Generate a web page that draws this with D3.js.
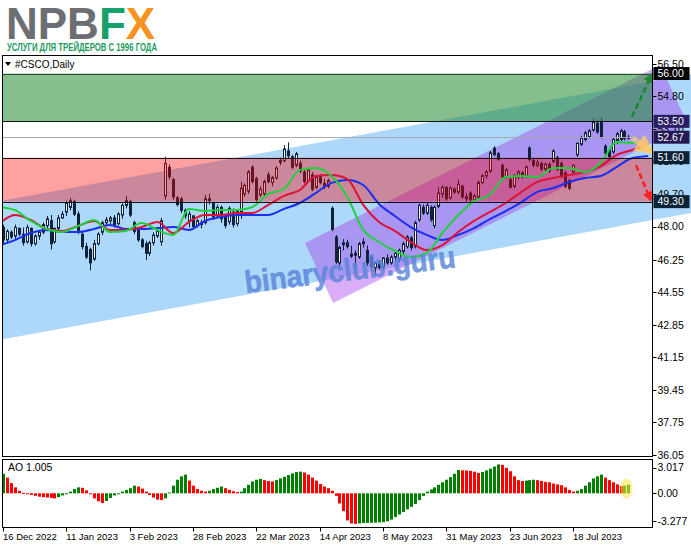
<!DOCTYPE html>
<html><head><meta charset="utf-8">
<script src="https://cdn.jsdelivr.net/npm/d3@7/dist/d3.min.js"></script>
<style>body{margin:0;background:#fff}svg{display:block}</style>
</head><body>
<svg id="c" width="691" height="549"></svg>
<script>
// ---------------- DATA ----------------
const openP=[47.95,47.30,47.70,47.50,47.90,47.60,47.20,47.90,47.10,47.50,
47.70,48.05,48.30,47.20,47.90,48.45,48.75,49.00,49.30,48.65,
47.60,46.95,46.80,46.30,47.10,47.70,48.20,48.30,48.45,48.15,
48.60,49.10,49.30,48.20,47.80,47.30,47.10,46.60,47.15,47.50,
47.20,49.60,51.10,50.45,49.50,49.45,48.85,48.30,48.55,48.05,
48.20,48.20,49.45,49.20,48.55,49.00,48.50,48.25,48.75,48.15,
48.75,49.70,49.85,51.10,50.50,49.65,49.70,50.70,50.30,50.55,
51.35,51.45,51.95,51.65,51.20,51.30,50.85,50.40,50.70,50.05,
50.65,50.25,50.10,48.95,47.45,46.10,47.05,47.15,46.55,46.60,
46.40,47.10,46.75,46.40,45.85,46.05,45.90,46.35,46.10,46.40,
46.30,46.70,46.95,47.40,46.95,48.35,49.00,48.70,49.00,48.05,
49.05,49.70,50.05,49.50,49.95,49.80,50.10,49.55,49.75,49.40,
49.55,50.30,50.65,50.90,52.10,51.80,51.20,50.60,50.45,50.10,
50.60,50.80,50.65,52.10,51.45,51.20,51.30,51.00,51.25,51.40,
51.60,51.30,50.80,50.40,50.85,51.75,52.30,52.55,52.70,53.05,
53.40,53.45,52.20,52.00,51.90,52.50,52.55,52.95,52.60];
const highP=[48.10,47.85,47.80,48.10,47.95,47.95,48.10,47.95,47.60,47.80,
48.20,48.55,48.60,47.95,48.60,48.80,49.35,49.50,49.40,48.80,
47.70,47.15,46.90,47.30,47.70,48.30,48.50,48.55,48.60,48.75,
49.20,49.60,49.40,48.30,47.95,47.40,47.25,47.25,47.70,47.90,
48.45,51.65,51.25,50.55,49.60,49.55,48.95,48.80,48.60,48.40,
48.35,49.65,49.70,49.30,49.15,49.10,48.55,49.05,48.95,48.90,
50.35,50.25,50.95,51.20,50.60,50.10,50.45,50.85,50.65,51.15,
51.60,52.25,52.40,51.75,51.90,51.45,50.95,51.05,50.85,50.70,
50.75,50.50,50.50,49.05,47.55,47.00,47.35,47.30,47.00,46.75,
47.20,47.40,47.00,46.50,46.15,46.20,46.40,46.55,46.50,46.70,
46.85,47.20,47.55,47.50,48.30,49.20,49.15,49.25,49.10,49.10,
50.05,50.15,50.10,50.10,50.05,50.45,50.20,49.75,49.85,49.70,
50.40,50.75,50.95,51.95,52.20,51.90,51.30,51.05,50.55,50.75,
50.95,50.90,51.20,52.20,51.60,51.50,51.40,51.35,51.35,52.05,
51.70,51.40,50.90,50.50,51.25,52.40,52.75,53.00,53.10,53.65,
53.55,53.70,52.30,52.10,52.65,52.95,53.10,53.05,52.80];
const lowP=[47.05,47.20,47.35,47.30,47.50,47.00,47.10,46.95,47.00,47.30,
47.60,47.75,46.80,47.10,47.70,48.40,48.55,48.85,48.55,47.60,
46.80,46.30,45.70,46.20,47.00,47.55,48.05,48.10,47.95,48.05,
48.40,48.95,48.50,47.60,47.20,46.85,46.25,46.45,47.00,47.40,
47.00,49.40,50.45,49.40,49.05,48.70,48.40,47.95,47.85,47.95,
47.90,48.10,49.15,48.35,48.45,48.20,47.90,48.10,47.95,48.00,
48.40,49.55,49.70,50.25,49.30,49.55,49.60,50.25,50.10,50.45,
51.20,51.35,51.55,51.00,51.10,50.80,50.25,50.30,49.85,49.95,
50.20,49.95,50.00,47.75,46.05,45.95,46.75,46.85,46.35,45.75,
46.30,46.90,45.95,45.80,45.45,45.75,45.80,46.00,46.00,46.20,
46.15,46.55,46.85,46.75,46.85,48.25,48.60,48.60,48.25,47.90,
48.95,49.50,49.35,49.40,49.70,49.70,49.45,49.30,49.30,49.30,
49.45,50.20,50.50,50.80,51.70,51.45,50.55,50.50,50.00,50.00,
50.45,50.50,50.55,51.40,51.10,51.10,50.90,50.90,50.80,51.30,
50.90,50.55,50.00,49.90,50.75,51.65,52.20,52.45,52.60,52.95,
52.85,52.60,51.75,51.55,51.80,52.30,52.45,52.50,52.55];
const closeP=[47.30,47.75,47.45,47.95,47.60,47.15,47.95,47.10,47.50,47.70,
48.10,48.40,47.10,47.90,48.45,48.65,49.25,49.35,48.65,47.80,
46.95,46.40,46.10,47.10,47.60,48.20,48.35,48.45,48.10,48.65,
49.10,49.35,48.60,47.75,47.30,46.95,46.60,47.15,47.55,47.75,
48.30,51.30,50.60,49.55,49.15,48.85,48.55,48.65,48.00,48.30,
48.10,49.45,49.35,48.50,49.00,48.40,48.05,48.95,48.10,48.80,
50.00,50.15,50.85,50.35,49.40,49.95,50.35,50.35,50.55,51.05,
51.45,52.05,51.70,51.10,51.80,50.90,50.35,50.95,49.95,50.60,
50.30,50.10,50.40,47.85,46.15,46.90,47.15,46.95,46.45,46.50,
47.10,47.20,46.10,45.90,46.10,45.85,46.35,46.10,46.40,46.60,
46.75,47.10,47.45,46.90,48.20,49.10,48.70,49.10,48.35,49.00,
49.75,50.05,49.45,50.00,49.80,50.20,49.55,49.45,49.40,49.60,
50.30,50.65,50.85,51.85,51.75,51.50,50.60,50.95,50.05,50.65,
50.85,50.60,51.10,51.50,51.20,51.35,51.00,51.25,50.90,51.95,
51.00,50.60,50.10,50.00,51.20,52.35,52.65,52.90,53.00,53.45,
52.95,52.70,51.85,51.65,52.55,52.85,53.00,52.60,52.67];

const aoValues=[2.3,1.85,1.2,0.7,0.3,0.05,-0.1,-0.2,-0.3,-0.4,
-0.45,-0.5,-0.55,-0.6,-0.45,-0.25,-0.05,0.2,0.5,0.7,
0.65,0.35,-0.1,-0.6,-0.95,-1.15,-0.9,-0.55,-0.25,0.0,
0.2,0.4,0.6,0.9,0.8,0.55,0.2,-0.2,-0.5,-0.75,
-0.8,-0.6,0.1,0.9,1.6,2.0,2.2,1.5,0.9,0.5,
0.3,0.2,0.3,0.5,0.65,0.8,0.6,0.4,0.25,0.15,
0.2,0.6,1.0,1.4,1.6,1.7,1.55,1.45,1.4,1.55,
1.75,1.95,2.15,2.35,2.5,2.55,2.45,2.2,1.85,1.5,
1.1,0.8,0.6,0.3,-0.3,-1.2,-2.1,-3.2,-3.55,-3.6,
-3.55,-3.5,-3.49,-3.48,-3.45,-3.43,-3.4,-3.3,-3.1,-2.8,
-2.5,-2.2,-1.9,-1.6,-1.25,-0.8,-0.3,0.2,0.45,0.7,
1.0,1.3,1.6,1.9,2.3,2.75,2.7,2.69,2.65,2.55,
2.4,2.5,2.7,2.9,3.15,3.4,3.35,3.0,2.6,2.0,
1.55,1.45,1.5,1.55,1.6,1.55,1.45,1.35,1.3,1.15,
1.05,0.95,0.7,0.4,0.2,0.3,0.5,0.9,1.3,1.75,
2.0,2.2,1.85,1.55,1.3,1.05,0.85,0.9,1.005];

// Alligator lines (shifted forward)
const jawIdx=[-1,3,7,11,15,19,23,27,31,35,39,43,47,51,55,59,63,67,71,75,79,83,87,91,95,99,103,107,111,115,119,123,127,131,135,139,143,147,151,155,159,163];
const jawVal=[47.0,47.29,47.66,47.82,47.71,47.71,47.87,48.08,47.87,47.87,
47.92,47.97,47.82,48.29,48.50,48.60,48.60,48.60,48.92,49.23,
49.75,50.28,50.43,50.17,49.18,48.55,47.97,47.56,47.29,47.56,
47.92,48.39,48.81,49.28,49.81,50.01,50.33,50.54,50.64,51.11,
51.58,51.69];
const teethIdx=[-1,3,7,11,15,19,23,27,31,35,39,43,47,51,55,59,63,67,71,75,79,83,87,91,95,99,103,107,111,115,119,123,127,131,135,139,143,147,151,155,159,162];
const teethVal=[48.13,48.60,48.34,47.87,47.77,48.03,48.29,47.82,47.82,47.97,
48.24,47.66,48.24,48.60,48.60,48.71,48.71,49.13,49.60,49.91,
50.64,50.69,50.48,49.13,48.24,47.77,47.19,46.77,47.03,47.71,
48.29,48.76,49.23,49.81,50.33,50.54,50.69,50.85,51.16,51.74,
52.00,52.21];
const lipsIdx=[-1,3,7,11,15,19,23,27,31,35,39,43,47,51,55,59,63,67,71,75,79,83,87,91,95,99,103,107,111,115,119,123,127,131,135,139,143,147,151,155,159,160.5];
const lipsVal=[49.02,48.86,48.29,47.87,47.71,48.03,48.34,47.71,47.77,48.18,
47.82,47.56,48.92,48.81,48.86,48.86,49.02,49.70,49.96,50.96,
51.06,50.64,49.54,47.82,47.19,46.72,46.41,46.61,47.66,48.60,
49.33,49.65,50.59,50.64,50.59,51.06,51.06,50.85,51.32,52.42,
52.37,52.47];

const dateLabels=["16 Dec 2022","11 Jan 2023","3 Feb 2023","28 Feb 2023","22 Mar 2023","14 Apr 2023","8 May 2023","31 May 2023","23 Jun 2023","18 Jul 2023"];
const dateIdx=[0,16,32,48,64,80,96,112,128,144];
const priceTicks=[56.50,54.80,53.10,51.40,49.70,48.00,46.25,44.55,42.85,41.15,39.45,37.75,36.05];
const aoTicks=[3.017,0.00,-3.277];
const aoTickText=["3.017","0.00","-3.277"];

// drawn objects, in (bar index, price)
const levelValues=[56.00,53.50,51.60,49.30];
const bidPrice=52.67;
const markedLabels=[56.00,53.50,52.67,51.60,49.30];
const greenZone=[56.00,53.50];
const redZone=[51.60,49.30];
const blueChannel=[[-1,49.32],[176,56.05],[176,48.79],[-1,42.06]];
const purpleChannel=[[76.3,47.14],[166.0,56.45],[173.1,53.31],[83.4,44.00]];
const upArrow=[[158.9,53.73],[163.9,55.96]];
const downArrow=[[159.9,51.22],[163.6,49.39]];
const sideArrow=[[159.0,52.62],[163.9,51.90]];

// ---------------- LAYOUT ----------------
const svg=d3.select('#c');
const FONT='"Liberation Sans", Arial, sans-serif';
const L=2.5, R=652.5, mT=55.5, mB=456.5, aT=459.5, aB=527.5;
const x=d3.scaleLinear().domain([0,144]).range([3,573]);
const y=d3.scaleLinear().domain([36.05,48.00]).range([455,226.5]);
const ya=d3.scaleLinear().domain([0,3.017]).range([493.3,467.7]);
const pt=d=>[x(d[0]),y(d[1])];

const defs=svg.append('defs');
defs.append('clipPath').attr('id','clipAll').append('rect').attr('x',L+0.5).attr('y',mT+0.5).attr('width',691-L).attr('height',mB-mT-1);
defs.append('clipPath').attr('id','clipPlot').append('rect').attr('x',L+0.5).attr('y',mT+0.5).attr('width',R-L-1).attr('height',mB-mT-1);
defs.append('clipPath').attr('id','clipAO').append('rect').attr('x',L+0.5).attr('y',aT+0.5).attr('width',R-L-1).attr('height',aB-aT-1);

// ---------------- LOGO ----------------
const logo=svg.append('text').attr('x',6).attr('y',39).attr('font-family',FONT).attr('font-weight','bold').attr('font-size',44).attr('letter-spacing',0);
logo.append('tspan').attr('fill','#6d6e71').text('NPB');
logo.append('tspan').attr('fill','#17a06c').text('F');
logo.append('tspan').attr('fill','#f7931e').text('X');
svg.append('text').attr('x',7).attr('y',50.5).attr('font-family',FONT).attr('font-weight','bold').attr('font-size',10)
  .attr('fill','#1b9a5e').attr('textLength',150).attr('lengthAdjust','spacingAndGlyphs').text('УСЛУГИ ДЛЯ ТРЕЙДЕРОВ С 1996 ГОДА');

// ---------------- MAIN PANEL ----------------
const back=svg.append('g').attr('clip-path','url(#clipAll)');
back.append('path').attr('d',d3.line()(blueChannel.map(pt))+'Z').attr('fill','#add8f9');

const plot=svg.append('g').attr('clip-path','url(#clipPlot)');
// candles
const bars=d3.range(openP.length);
const cg=plot.append('g');
cg.selectAll('line.w').data(bars).join('line')
  .attr('x1',i=>Math.round(x(i))+0.5).attr('x2',i=>Math.round(x(i))+0.5)
  .attr('y1',i=>y(highP[i])).attr('y2',i=>y(lowP[i]))
  .attr('stroke','#10213a').attr('stroke-width',1);
cg.selectAll('rect.b').data(bars).join('rect')
  .attr('x',i=>Math.round(x(i))-0.5).attr('width',2)
  .attr('y',i=>y(Math.max(openP[i],closeP[i])))
  .attr('height',i=>Math.max(1,Math.abs(y(openP[i])-y(closeP[i]))))
  .attr('fill',i=>closeP[i]>=openP[i]?'#ffffff':'#10213a')
  .attr('stroke','#10213a').attr('stroke-width',1);

// red zone
plot.append('rect').attr('x',L).attr('width',R-L).attr('y',y(redZone[0])).attr('height',y(redZone[1])-y(redZone[0]))
  .attr('fill','rgba(255,0,0,0.37)');

// alligator
const mline=d3.line().curve(d3.curveMonotoneX);
const ma=(idx,val,col)=>plot.append('path').attr('d',mline(idx.map((k,j)=>[x(k),y(val[j])])))
  .attr('fill','none').attr('stroke',col).attr('stroke-width',2);
ma(jawIdx,jawVal,'#1a2ff0');
ma(teethIdx,teethVal,'#dc1437');
ma(lipsIdx,lipsVal,'#1ed23c');

// purple channel
back.append('path').attr('d',d3.line()(purpleChannel.map(pt))+'Z').attr('fill','rgba(165,60,235,0.42)');
// green zone
plot.append('rect').attr('x',L).attr('width',R-L).attr('y',y(greenZone[0])).attr('height',y(greenZone[1])-y(greenZone[0]))
  .attr('fill','rgba(34,139,50,0.55)');

// level lines
plot.selectAll('line.lv').data(levelValues).join('line')
  .attr('x1',L).attr('x2',R).attr('y1',d=>Math.round(y(d))+0.5).attr('y2',d=>Math.round(y(d))+0.5)
  .attr('stroke',(d,i)=>i===0?'#2c4a34':'#111').attr('stroke-width',1);
plot.append('line').attr('x1',L).attr('x2',R).attr('y1',Math.round(y(bidPrice))+0.5).attr('y2',Math.round(y(bidPrice))+0.5)
  .attr('stroke','#a9a9b4').attr('stroke-width',1);

// arrows
const mk=(id,col)=>defs.append('marker').attr('id',id).attr('viewBox','0 0 10 10').attr('refX',8).attr('refY',5)
  .attr('markerWidth',4).attr('markerHeight',4).attr('orient','auto')
  .append('path').attr('d','M0,0L10,5L0,10Z').attr('fill',col);
mk('mg','#1c8a2c'); mk('mr','#ff2020'); mk('my','rgba(255,200,100,0.8)');
const arrows=svg.append('g').attr('clip-path','url(#clipAll)');
arrows.append('path').attr('d',d3.line()(sideArrow.map(pt))).attr('stroke','rgba(255,205,110,0.7)').attr('stroke-width',5).attr('fill','none').attr('marker-end','url(#my)');
arrows.append('path').attr('d',d3.line()(upArrow.map(pt))).attr('stroke','#1c8a2c').attr('stroke-width',2.5).attr('stroke-dasharray','6,3').attr('fill','none').attr('marker-end','url(#mg)');
arrows.append('path').attr('d',d3.line()(downArrow.map(pt))).attr('stroke','#ff2020').attr('stroke-width',2.5).attr('stroke-dasharray','6,3').attr('fill','none').attr('marker-end','url(#mr)');

// watermark
svg.append('text').attr('transform','translate(246,293) rotate(-7)').attr('font-family',FONT).attr('font-weight','bold')
  .attr('font-size',31).attr('fill','rgba(92,132,218,0.82)').attr('stroke','rgba(92,132,218,0.6)').attr('stroke-width',0.8)
  .attr('textLength',212).attr('lengthAdjust','spacingAndGlyphs').text('binaryclub.guru');

// frames
svg.append('rect').attr('x',L).attr('y',mT).attr('width',R-L).attr('height',mB-mT).attr('fill','none').attr('stroke','#000');
svg.append('rect').attr('x',L).attr('y',aT).attr('width',R-L).attr('height',aB-aT).attr('fill','none').attr('stroke','#000');

// title
svg.append('path').attr('d','M5,62L11,62L8,66Z').attr('fill','#000');
svg.append('text').attr('x',15).attr('y',68).attr('font-family',FONT).attr('font-size',10).attr('fill','#000').text('#CSCO,Daily');

// right axis
const ax=svg.append('g').attr('font-family',FONT).attr('font-size',10.5);
ax.selectAll('line.t').data(priceTicks).join('line').attr('x1',R).attr('x2',R+4)
  .attr('y1',d=>Math.round(y(d))+0.5).attr('y2',d=>Math.round(y(d))+0.5).attr('stroke','#000');
ax.selectAll('text.t').data(priceTicks).join('text').attr('x',R+5).attr('y',d=>y(d)).attr('dy','0.35em')
  .attr('fill','#000').text(d=>d.toFixed(2));
const boxCol={0:'#000000',1:'#2a1f63',2:'#231a52',3:'#0b2236',4:'#0b2236'};
const mg=ax.selectAll('g.m').data(markedLabels).join('g').attr('transform',d=>`translate(0,${y(d)})`);
mg.append('rect').attr('x',R+1).attr('y',-6.5).attr('width',36).attr('height',13).attr('fill',(d,i)=>boxCol[i]);
mg.append('text').attr('x',R+5).attr('dy','0.35em').attr('fill','#fff').text(d=>d.toFixed(2));

// AO panel
const ao=svg.append('g').attr('clip-path','url(#clipAO)');
ao.selectAll('rect').data(bars).join('rect')
  .attr('x',i=>Math.round(x(i))-1).attr('width',3)
  .attr('y',i=>Math.min(ya(aoValues[i]),ya(0))).attr('height',i=>Math.max(1,Math.abs(ya(aoValues[i])-ya(0))))
  .attr('fill',i=>(i===0||aoValues[i]>=aoValues[i-1])?'#008000':'#ff0000');
ao.append('ellipse').attr('cx',x(157.5)).attr('cy',ya(0.55)).attr('rx',6).attr('ry',10).attr('fill','rgba(255,232,60,0.55)');
svg.append('text').attr('x',8).attr('y',471).attr('font-family',FONT).attr('font-size',10.5).attr('fill','#000').text('AO 1.005');
ax.selectAll('line.a').data(aoTicks).join('line').attr('x1',R).attr('x2',R+4)
  .attr('y1',d=>Math.round(ya(d))+0.5).attr('y2',d=>Math.round(ya(d))+0.5).attr('stroke','#000');
ax.selectAll('text.a').data(aoTicks).join('text').attr('x',R+5).attr('y',d=>ya(d)).attr('dy','0.35em').attr('fill','#000').text((d,i)=>aoTickText[i]);

// bottom axis
const bx=svg.append('g').attr('font-family',FONT).attr('font-size',9.5);
bx.selectAll('line').data(dateIdx).join('line').attr('x1',d=>Math.round(x(d))+0.5).attr('x2',d=>Math.round(x(d))+0.5)
  .attr('y1',aB).attr('y2',aB+4).attr('stroke','#000');
bx.selectAll('text').data(dateIdx).join('text').attr('x',d=>x(d)).attr('y',540).attr('fill','#000').text((d,i)=>dateLabels[i]);
</script>
</body></html>
